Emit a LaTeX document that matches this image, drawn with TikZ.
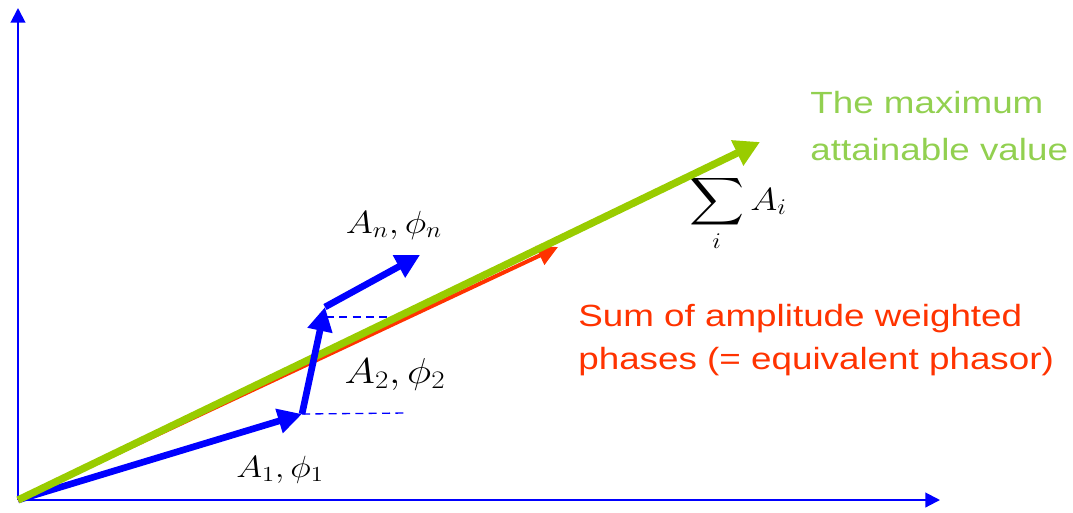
\RequirePackage{fix-cm}
\documentclass[tikz,border=0pt]{standalone}
\usepackage{exscale}
\usepackage{fontspec}
\setmainfont{Liberation Sans}
\usepackage{tikz}
\usetikzlibrary{arrows.meta}

\definecolor{phblue}{RGB}{0,0,255}
\definecolor{phgreen}{RGB}{153,204,0}
\definecolor{txtgreen}{RGB}{146,208,80}
\definecolor{phred}{RGB}{255,51,0}

\begin{document}
\begin{tikzpicture}[x=0.75pt, y=-0.75pt,
        axis/.style={draw=phblue, line width=1.5pt, -{Triangle[length=11pt, width=11pt]}},
        vec/.style={draw=phblue, line width=5pt, -{Triangle[length=18pt, width=18pt]}},
        guide/.style={draw=phblue, line width=1pt, dash pattern=on 6pt off 4pt},
        sumvec/.style={draw=phred, line width=3pt, -{Triangle[length=15pt, width=15pt]}},
        maxvec/.style={draw=phgreen, line width=5.5pt, -{Triangle[length=19pt, width=20pt]}},
        lbl/.style={inner sep=0pt, anchor=base, xscale=1.15, transform shape},
        note/.style={inner sep=0pt, anchor=north west, align=left, xscale=1.2, transform shape}]
    \useasboundingbox (0,0) rectangle (1073,512);

    % points of the phasor chain
    \coordinate (O) at (18,500);
    \coordinate (ytip) at (18,8);
    \coordinate (xtip) at (940,500);
    \coordinate (P1) at (302,414);
    \coordinate (P2) at (325,307);
    \coordinate (Pn) at (420,255);
    \coordinate (R) at (558,247);
    \coordinate (G) at (760,142);
    \coordinate (g1) at (405,413);
    \coordinate (g2s) at (326,317);
    \coordinate (g2) at (388,317);

    % labels
    \node (a1lbl) [lbl, font=\fontsize{23}{27}\selectfont] at (280,477) {$A_1,\phi_1$};
    \node (a2lbl) [lbl, font=\fontsize{27}{31}\selectfont] at (395,383) {$A_2,\phi_2$};
    \node (anlbl) [lbl, font=\fontsize{24}{28}\selectfont] at (394,233) {$A_n,\phi_n$};
    \node (sumlbl) [lbl, font=\fontsize{24}{28}\selectfont] at (738,210) {$\displaystyle\sum_i A_i$};
    \node (maxtxt) [note, text=txtgreen, font=\fontsize{23}{35}\selectfont] at (810,91) {The maximum\\attainable value};
    \node (sumtxt) [note, text=phred, font=\fontsize{23}{32}\selectfont] at (578,304) {Sum of amplitude weighted\\phases (= equivalent phasor)};

    % axes and vectors
    \draw[axis] (O) -- (ytip);
    \draw[axis] (O) -- (xtip);
    \draw[guide] (P1) -- (g1);
    \draw[guide] (g2s) -- (g2);
    \draw[vec] (O) -- (P1);
    \draw[sumvec] (O) -- (R);
    \draw[maxvec] (O) -- (G);
    \draw[vec] (P1) -- (P2);
    \draw[vec] (P2) -- (Pn);
\end{tikzpicture}
\end{document}
